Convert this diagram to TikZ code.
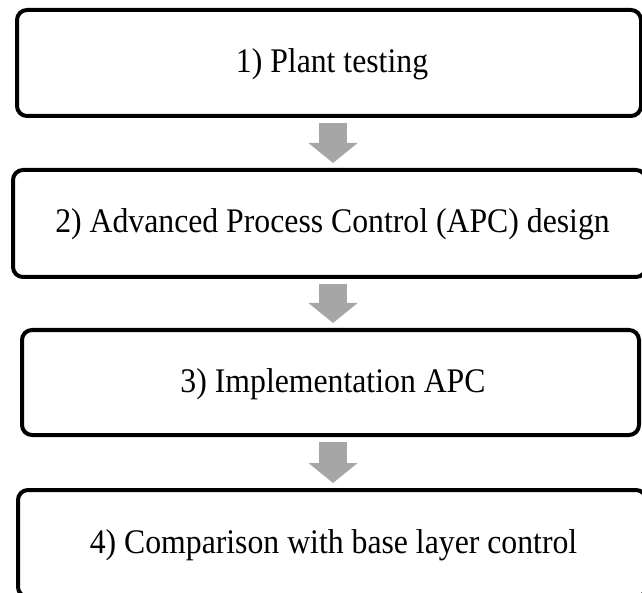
\documentclass[tikz,border=0pt]{standalone}
\usepackage{fontspec}
\setmainfont[FakeStretch=0.92]{Liberation Serif}
\usetikzlibrary{arrows.meta}
\definecolor{arrowgray}{HTML}{A6A6A6}
\begin{document}
\begin{tikzpicture}[x=1pt,y=-1pt,
  stepbox/.style={draw=black, line width=4pt, rounded corners=10pt, fill=white,
    inner sep=0pt, text height=26pt, text depth=7pt,
    font=\fontsize{34.5}{40}\selectfont, text=black},
  flow/.style={draw=arrowgray, line width=28pt, line cap=butt,
    -{Triangle[width=48pt,length=20pt]}}
]
\useasboundingbox (0,0) rectangle (642,593);
\clip (0,0) rectangle (642,593);
\coordinate (tx) at (333,0);
\node[stepbox, minimum width=624pt, minimum height=106pt] (b1) at (329,63) {\hspace*{6pt}1) Plant testing};
\node[stepbox, minimum width=633pt, minimum height=107pt] (b2) at (329.5,223.5) {\hspace*{6pt}2) Advanced Process Control (APC) design};
\node[stepbox, minimum width=617pt, minimum height=105pt] (b3) at (330.5,382.5) {\hspace*{5pt}3) Implementation APC};
\node[stepbox, minimum width=628pt, minimum height=107pt] (b4) at (332,543.5) {\hspace*{3pt}4) Comparison with base layer control};
\draw[flow] ([yshift=-5pt]b1.south -| tx) -- ([yshift=5pt]b2.north -| tx);
\draw[flow] ([yshift=-5pt]b2.south -| tx) -- ([yshift=5pt]b3.north -| tx);
\draw[flow] ([yshift=-5pt]b3.south -| tx) -- ([yshift=5pt]b4.north -| tx);
\end{tikzpicture}
\end{document}
